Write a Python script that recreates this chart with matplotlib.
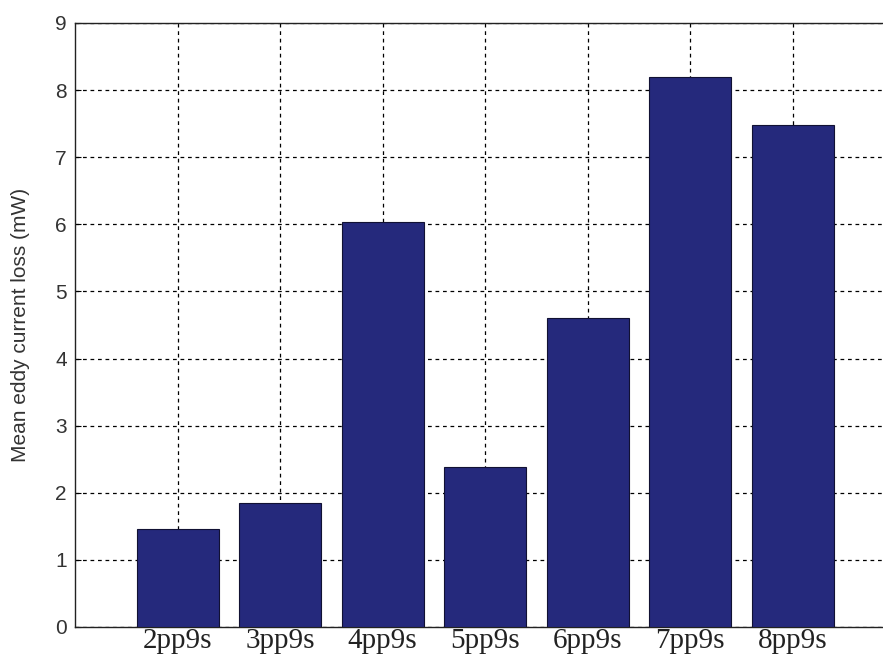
import matplotlib
matplotlib.use('Agg')
import numpy as np
from matplotlib import pyplot as plt

# mean eddy current loss per winding configuration
configs = ['2pp9s', '3pp9s', '4pp9s', '5pp9s', '6pp9s', '7pp9s', '8pp9s']
loss_mw = [1.46, 1.85, 6.03, 2.38, 4.61, 8.20, 7.48]

fig = plt.figure(figsize=(8.83, 6.59), dpi=100)
ax = fig.add_axes([0.085, 0.0486, 0.9287, 0.9166])

x = np.arange(1, len(configs) + 1)
ax.bar(x, loss_mw, width=0.8, color='#25297c', edgecolor='#111133',
       linewidth=0.8, zorder=3)

ax.set_xlim(0, 8)
ax.set_ylim(0, 9)
ax.set_yticks(range(0, 10))
ax.set_xticks(x)
ax.set_xticklabels(configs, fontfamily='Liberation Serif', fontsize=21,
                   color='#222222')
for lbl in ax.get_yticklabels():
    lbl.set_fontfamily('Liberation Sans')
    lbl.set_fontsize(15)
    lbl.set_color('#333333')
ax.tick_params(direction='in', length=4, pad=6)
ax.tick_params(axis='x', pad=1)

ax.set_ylabel('Mean eddy current loss (mW)', fontfamily='Liberation Sans',
              fontsize=15, color='#333333', labelpad=18)

ax.grid(True, color='black', linestyle=(0, (3, 3)), linewidth=0.9, zorder=0)
ax.set_axisbelow(True)
for s in ax.spines.values():
    s.set_linewidth(1.0)
    s.set_color('#222222')

fig.savefig('out.png', dpi=100)
